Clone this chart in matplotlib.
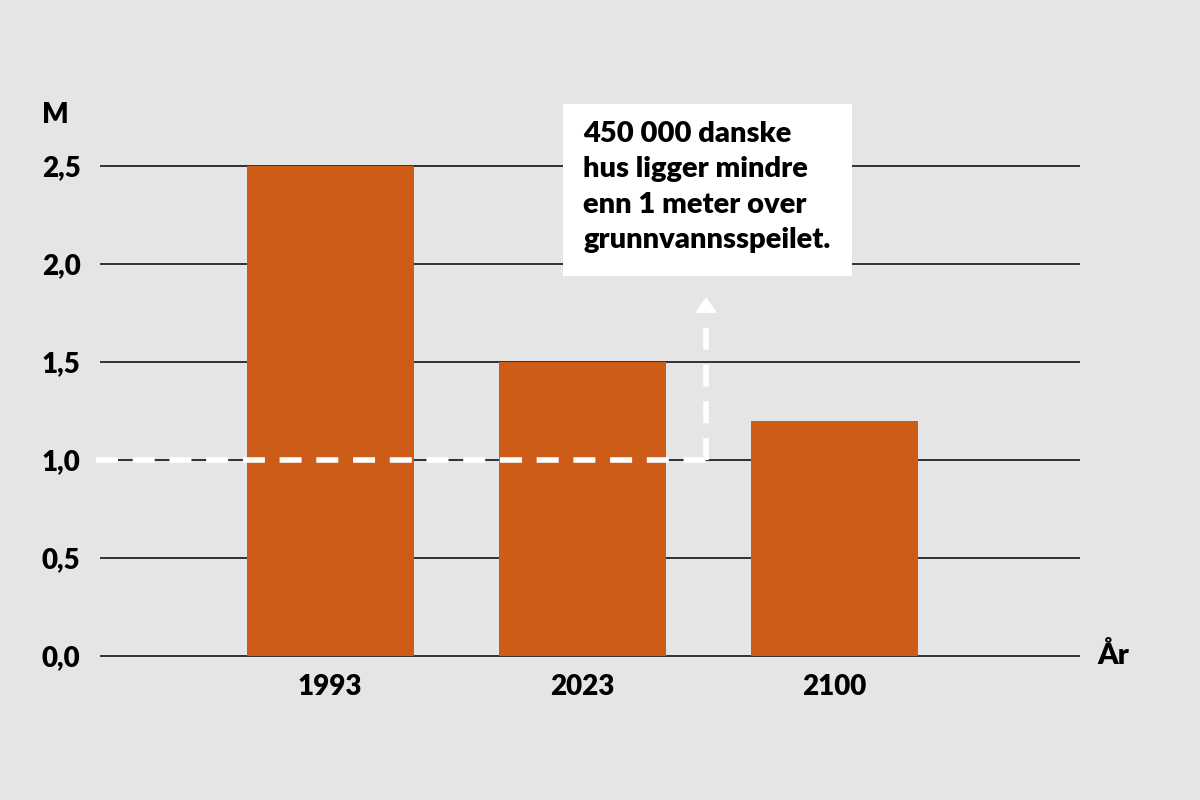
import matplotlib.pyplot as plt
from matplotlib.patches import Rectangle

years = ["1993", "2023", "2100"]
depth = [2.5, 1.5, 1.2]
yticks = [0.0, 0.5, 1.0, 1.5, 2.0, 2.5]
ytick_labels = ["0,0", "0,5", "1,0", "1,5", "2,0", "2,5"]
threshold = 1.0
note = "450 000 danske\nhus ligger mindre\nenn 1 meter over\ngrunnvannsspeilet."

bg = "#e5e5e5"
bar_color = "#cc5c17"
font = ["Lato", "DejaVu Sans"]
weight = "heavy"


def main():
    plt.rcParams["font.family"] = font
    fig = plt.figure(figsize=(12, 8), dpi=100, facecolor=bg)
    ax = fig.add_axes([100 / 1200, 0.1751, 980 / 1200, 0.6297])
    ax.set_facecolor(bg)

    x = list(range(len(years)))
    ax.bar(x, depth, width=0.663, color=bar_color, zorder=2)

    # Horizontal rules behind the bars
    for y in yticks:
        ax.axhline(y, color="black", lw=1.1, zorder=1)

    ax.set_xlim(-0.913, 2.976)
    ax.set_ylim(-0.02, 2.55)
    for s in ax.spines.values():
        s.set_visible(False)

    ax.set_yticks(yticks)
    ax.set_yticklabels(ytick_labels)
    ax.set_xticks(x)
    ax.set_xticklabels(years)
    ax.tick_params(axis="y", length=0, pad=14, labelsize=20)
    ax.tick_params(axis="x", length=0, pad=10, labelsize=20)
    for lbl in ax.get_xticklabels() + ax.get_yticklabels():
        lbl.set_fontweight(weight)

    # Dashed white line at 1 m with arrow up to the note
    arrow_x = 1.492
    ax.plot([-0.93, arrow_x], [threshold, threshold], color="white", lw=4,
            dashes=(3.96, 2.65), solid_capstyle="butt", zorder=3, clip_on=False)
    ax.plot([arrow_x, arrow_x], [threshold, 1.735], color="white", lw=4,
            dashes=(3.96, 2.65), zorder=3)
    ax.annotate("", xy=(arrow_x, 1.83), xytext=(arrow_x, 1.73),
                arrowprops=dict(arrowstyle="-|>,head_length=0.28,head_width=0.2",
                                color="white", lw=0, mutation_scale=40,
                                shrinkA=0, shrinkB=0),
                zorder=3)

    ax.text(2.976 + 0.07, 0, "År", ha="left", va="center", fontsize=21,
            fontweight=weight)
    fig.text(42 / 1200, 1 - 115 / 800, "M", ha="left", va="center",
             fontsize=20, fontweight=weight)

    fig.patches.append(Rectangle((563 / 1200, 1 - 276 / 800), 289 / 1200,
                                 172 / 800, transform=fig.transFigure,
                                 facecolor="white", edgecolor="none"))
    fig.text(583 / 1200, 1 - 121 / 800, note, ha="left", va="top",
             fontsize=21, fontweight=weight, linespacing=1.45)

    fig.savefig("out.png", facecolor=bg)


if __name__ == "__main__":
    main()
